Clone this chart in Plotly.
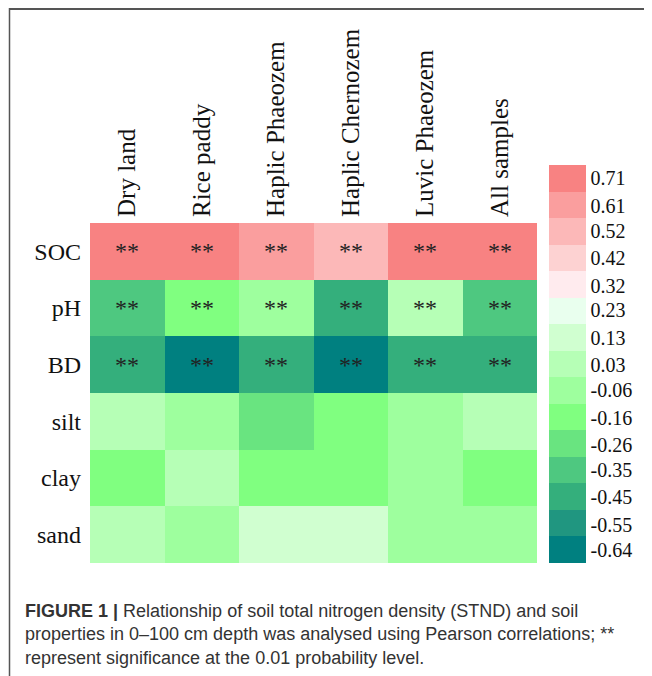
import plotly.graph_objects as go

columns = ["Dry land", "Rice paddy", "Haplic Phaeozem", "Haplic Chernozem", "Luvic Phaeozem", "All samples"]
rows = ["SOC", "pH", "BD", "silt", "clay", "sand"]

soc = [0.71, 0.71, 0.61, 0.52, 0.71, 0.71]
ph = [-0.35, -0.16, -0.06, -0.45, 0.03, -0.35]
bd = [-0.45, -0.64, -0.45, -0.64, -0.45, -0.45]
silt = [0.03, -0.06, -0.26, -0.16, -0.06, 0.03]
clay = [-0.16, 0.03, -0.16, -0.16, -0.06, -0.16]
sand = [0.03, -0.06, 0.13, 0.13, -0.06, -0.06]

sig_soc = ["**"] * 6
sig_ph = ["**"] * 6
sig_bd = ["**"] * 6
sig_none = [""] * 6

legend_labels = ["-0.64", "-0.55", "-0.45", "-0.35", "-0.26", "-0.16", "-0.06",
                 "0.03", "0.13", "0.23", "0.32", "0.42", "0.52", "0.61", "0.71"]
bin_colors = ["rgb(0,128,128)", "rgb(32,150,128)", "rgb(52,175,124)", "rgb(78,200,128)",
              "rgb(105,228,128)", "rgb(128,255,128)", "rgb(158,255,158)", "rgb(182,255,182)",
              "rgb(208,255,208)", "rgb(233,255,238)", "rgb(255,235,238)", "rgb(253,210,210)",
              "rgb(252,184,184)", "rgb(250,158,158)", "rgb(248,130,130)"]

z = [soc, ph, bd, silt, clay, sand]
text = [sig_soc, sig_ph, sig_bd, sig_none, sig_none, sig_none]

vals = [float(v) for v in legend_labels]
n = len(vals)
step = (vals[-1] - vals[0]) / (n - 1)
zmin = vals[0] - step / 2
zmax = vals[-1] + step / 2

colorscale = []
for i, c in enumerate(bin_colors):
    colorscale.append([i / n, c])
    colorscale.append([(i + 1) / n, c])

# page body has an 8px margin; work in reference pixel coordinates and subtract it
OFF = 8
W, H = 652 - OFF, 676 - OFF
L, R, T, B = 90 - OFF, 652 - 537, 223 - OFF, 676 - 563
pw = W - L - R
ph_ = H - T - B

def px(x):
    return (x - OFF - L) / pw

def py(y):
    return 1 - (y - OFF - T) / ph_

fig = go.Figure(go.Heatmap(
    z=z, x=columns, y=rows, text=text, texttemplate="%{text}",
    textfont=dict(family="Liberation Serif", size=24, color="#222"),
    colorscale=colorscale, zmin=zmin, zmax=zmax, xgap=0, ygap=0,
    colorbar=dict(
        tickvals=vals, ticktext=legend_labels,
        tickfont=dict(family="Liberation Serif", size=20, color="#111"),
        thickness=37, thicknessmode="pixels",
        len=398, lenmode="pixels",
        x=px(549), xanchor="left",
        y=0, yanchor="bottom",
        outlinewidth=0, ticks="", ticklabelposition="outside", xpad=0, ypad=0,
    ),
))

fig.update_layout(
    width=W, height=H,
    margin=dict(l=L, r=R, t=T, b=B),
    paper_bgcolor="white", plot_bgcolor="white",
    xaxis=dict(side="top", tickangle=-90, showgrid=False, zeroline=False, ticks="",
               ticklabelstandoff=5, automargin=False,
               tickfont=dict(family="Liberation Serif", size=25, color="#111")),
    yaxis=dict(autorange="reversed", showgrid=False, zeroline=False, ticks="",
               ticklabelstandoff=8, automargin=False,
               tickfont=dict(family="Liberation Serif", size=24, color="#111")),
    font=dict(family="Liberation Serif"),
)

fig.add_shape(type="line", xref="paper", yref="paper", x0=px(9), x1=px(660), y0=py(9), y1=py(9),
              line=dict(color="#555", width=2))
fig.add_shape(type="line", xref="paper", yref="paper", x0=px(9.5), x1=px(9.5), y0=py(8), y1=py(680),
              line=dict(color="#555", width=1.5))

caption = ("<b>FIGURE 1 |</b> Relationship of soil total nitrogen density (STND) and soil<br>"
           "properties in 0–100 cm depth was analysed using Pearson correlations; **<br>"
           "represent significance at the 0.01 probability level.")
fig.add_annotation(xref="paper", yref="paper", x=px(23), y=py(599), xanchor="left", yanchor="top",
                   text=caption, showarrow=False, align="left",
                   font=dict(family="Liberation Sans", size=18, color="#333"))

fig.write_html("out.html")
